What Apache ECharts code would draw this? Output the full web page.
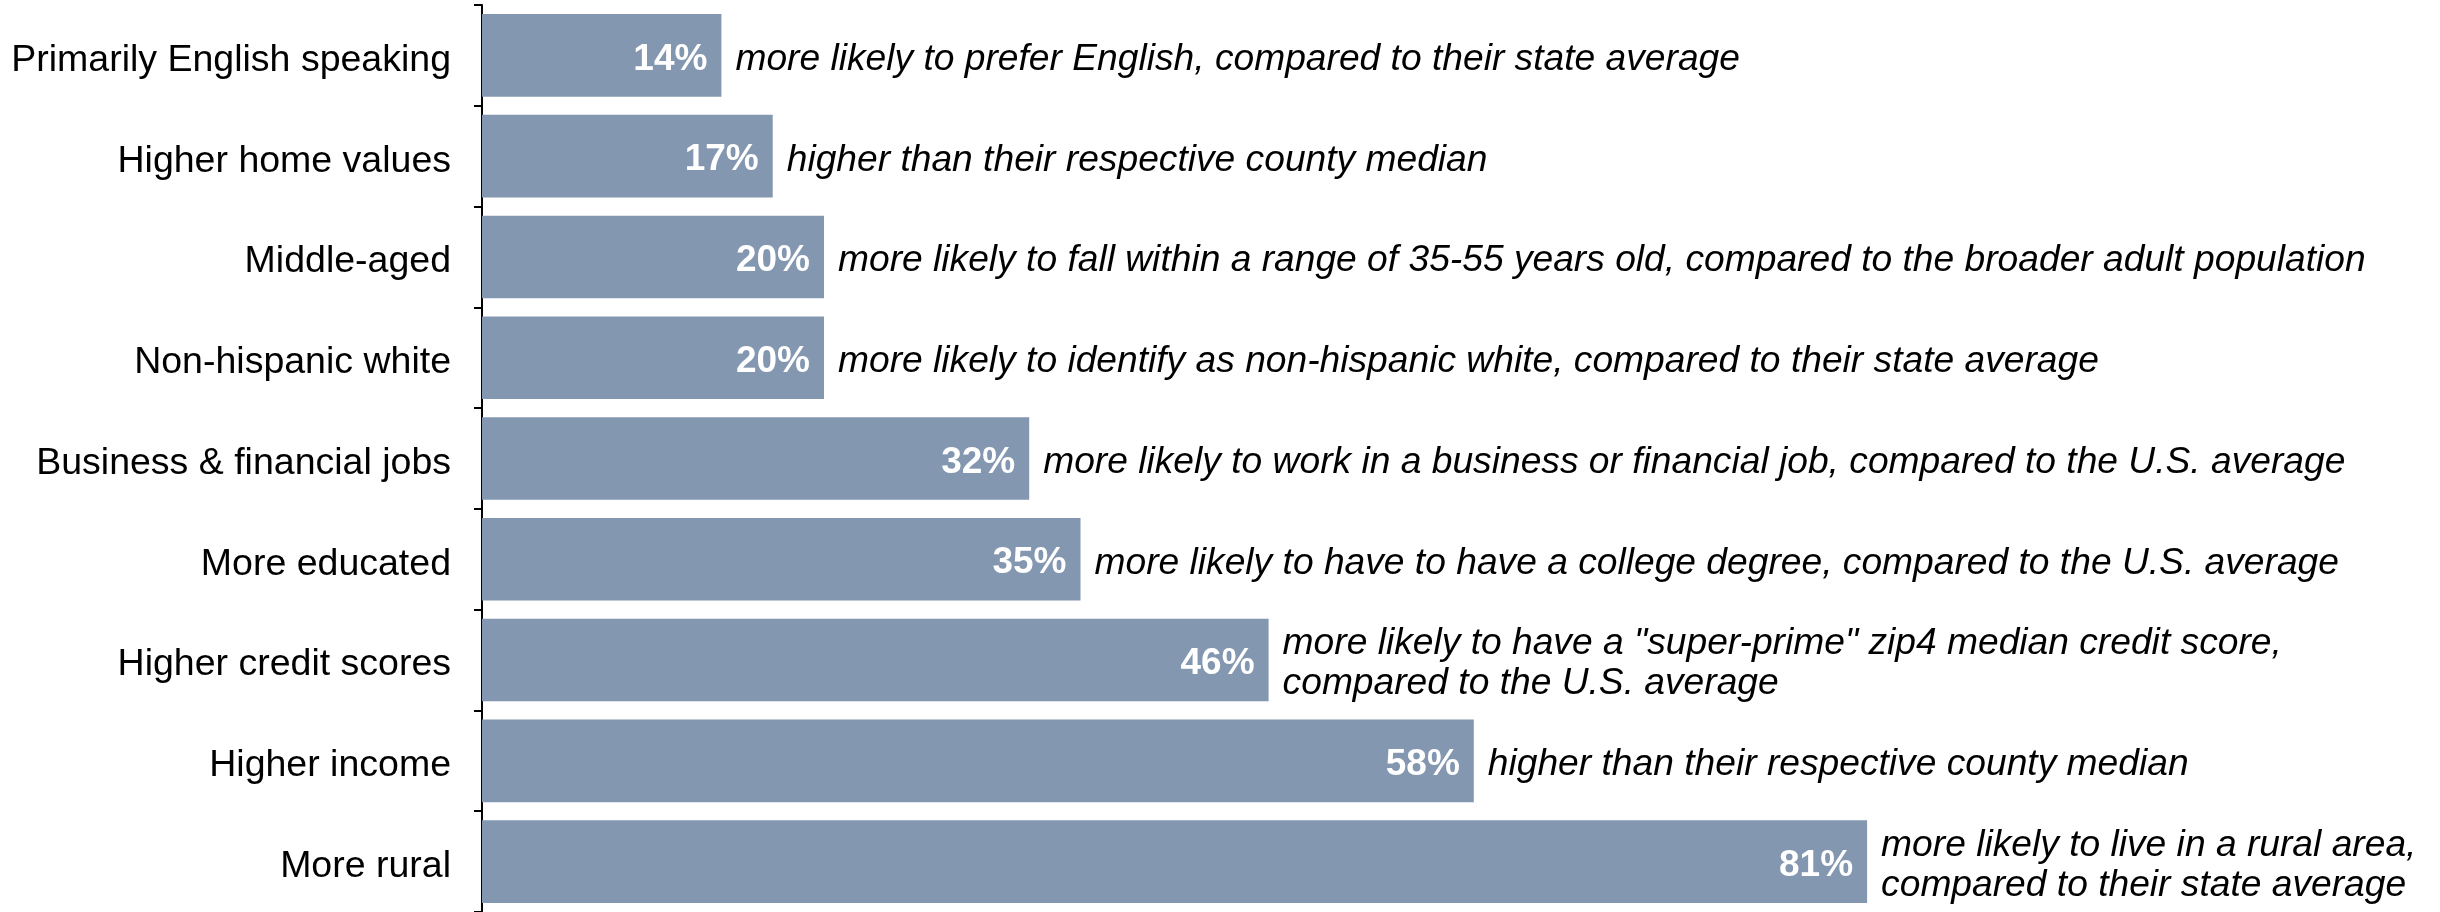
<!DOCTYPE html>
<html>
<head>
<meta charset="utf-8">
<title>Audience profile</title>
<script src="https://cdn.jsdelivr.net/npm/echarts@6/dist/echarts.min.js"></script>
<style>
  html, body { margin: 0; padding: 0; background: #ffffff; }
  #chart { width: 2440px; height: 912px; }
</style>
</head>
<body>
<div id="chart"></div>
<script>
// Audience traits, top to bottom
const categories = [
  'Primarily English speaking',
  'Higher home values',
  'Middle-aged',
  'Non-hispanic white',
  'Business & financial jobs',
  'More educated',
  'Higher credit scores',
  'Higher income',
  'More rural'
];

// Percentage difference for each trait
const values = [14, 17, 20, 20, 32, 35, 46, 58, 81];

// Explanation shown next to each bar
const notes = [
  'more likely to prefer English, compared to their state average',
  'higher than their respective county median',
  'more likely to fall within a range of 35-55 years old, compared to the broader adult population',
  'more likely to identify as non-hispanic white, compared to their state average',
  'more likely to work in a business or financial job, compared to the U.S. average',
  'more likely to have to have a college degree, compared to the U.S. average',
  'more likely to have a "super-prime" zip4 median credit score,\ncompared to the U.S. average',
  'higher than their respective county median',
  'more likely to live in a rural area,\ncompared to their state average'
];

const FONT = '"Liberation Sans", Arial, sans-serif';

const chart = echarts.init(document.getElementById('chart'), null, { renderer: 'canvas' });

chart.setOption({
  animation: false,
  backgroundColor: '#ffffff',
  grid: { left: 482, top: 5, width: 1710, bottom: 0, containLabel: false },
  xAxis: {
    type: 'value',
    min: 0,
    max: 100,
    show: false
  },
  yAxis: {
    type: 'category',
    data: categories,
    inverse: true,
    axisLine: { show: true, lineStyle: { color: '#000000', width: 2 } },
    axisTick: { show: true, length: 8, lineStyle: { color: '#000000', width: 2 } },
    axisLabel: {
      margin: 31,
      formatter: (v) => '{t|' + v + '}',
      rich: {
        t: {
          fontFamily: FONT,
          fontSize: 37.5,
          color: '#000000',
          padding: [10, 0, 0, 0]
        }
      }
    },
    splitLine: { show: false }
  },
  series: [
    {
      type: 'bar',
      data: values,
      barCategoryGap: '18%',
      itemStyle: { color: '#8497B0' },
      label: {
        show: true,
        position: 'insideRight',
        distance: 14,
        offset: [0, 4],
        formatter: '{c}%',
        fontFamily: FONT,
        fontSize: 37,
        fontWeight: 'bold',
        color: '#ffffff'
      },
      z: 2
    },
    {
      type: 'bar',
      data: values,
      barGap: '-100%',
      barCategoryGap: '18%',
      silent: true,
      itemStyle: { color: 'rgba(0,0,0,0)' },
      label: {
        show: true,
        position: 'right',
        distance: 14,
        offset: [0, 4],
        formatter: (p) => notes[p.dataIndex],
        fontFamily: FONT,
        fontSize: 37.2,
        fontStyle: 'italic',
        lineHeight: 40,
        color: '#000000'
      },
      z: 3
    }
  ]
});
</script>
</body>
</html>
